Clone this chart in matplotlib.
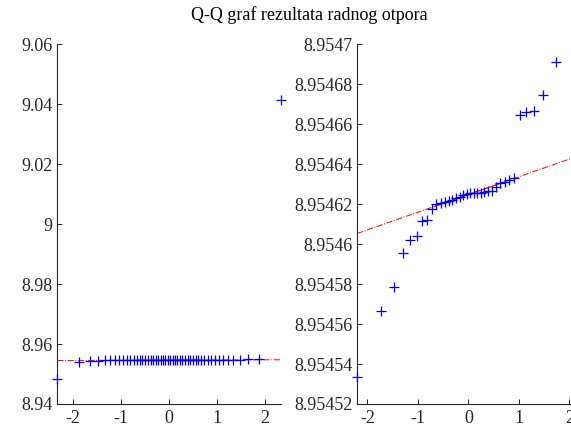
import numpy as np
import matplotlib
matplotlib.use('Agg')
import matplotlib.pyplot as plt
from statistics import NormalDist

plt.rcParams['font.family'] = ['Liberation Serif', 'DejaVu Serif']

# svi rezultati (50 mjerenja)
svi = [8.94834, 8.95410, 8.95440, 8.95450, 8.95452, 8.95454, 8.95455, 8.95456,
       8.95457, 8.95457, 8.95458, 8.95458, 8.95459, 8.95459, 8.95459, 8.95460,
       8.95460, 8.95460, 8.95460, 8.95461, 8.95461, 8.95461, 8.95461, 8.95462,
       8.95462, 8.95462, 8.95462, 8.95462, 8.95463, 8.95463, 8.95463, 8.95463,
       8.95464, 8.95464, 8.95464, 8.95465, 8.95465, 8.95466, 8.95466, 8.95467,
       8.95468, 8.95469, 8.95470, 8.95472, 8.95474, 8.95477, 8.95482, 8.95486,
       8.95490, 9.04140]
# bez grubih gresaka (36 mjerenja)
bez = [8.9545337, 8.9545665, 8.9545784, 8.9545957, 8.9546021, 8.9546042,
       8.9546117, 8.9546121, 8.9546177, 8.9546200, 8.9546207, 8.9546210,
       8.9546218, 8.9546222, 8.9546232, 8.9546238, 8.9546248, 8.9546252,
       8.9546254, 8.9546255, 8.9546256, 8.9546258, 8.9546262, 8.9546264,
       8.9546266, 8.9546285, 8.9546306, 8.9546310, 8.9546320, 8.9546330,
       8.9546646, 8.9546660, 8.9546668, 8.9546748, 8.9546910, 8.9546980]

yt1 = [8.94, 8.96, 8.98, 9.0, 9.02, 9.04, 9.06]
yl1 = ['8.94', '8.96', '8.98', '9', '9.02', '9.04', '9.06']
yt2 = [8.95452, 8.95454, 8.95456, 8.95458, 8.9546, 8.95462, 8.95464,
       8.95466, 8.95468, 8.9547]
yl2 = ['8.95452', '8.95454', '8.95456', '8.95458', '8.9546', '8.95462',
       '8.95464', '8.95466', '8.95468', '8.9547']
xt = [-2, -1, 0, 1, 2]
xl = ['-2', '-1', '0', '1', '2']

siva = '#262626'


def qq(ax, data, yt, yl):
    y = np.sort(np.array(data))
    n = len(y)
    x = np.array([NormalDist().inv_cdf((i - 0.5) / n) for i in range(1, n + 1)])
    q1, q3 = np.percentile(y, [25, 75], method='hazen')
    z1, z3 = NormalDist().inv_cdf(0.25), NormalDist().inv_cdf(0.75)
    k = (q3 - q1) / (z3 - z1)
    ax.plot(x, y, '+', color='blue', ms=6.5, mew=0.9, zorder=3, clip_on=False)
    ax.plot([z1, z3], [q1, q3], '-', color='red', lw=0.7, zorder=2)
    ax.plot([x[0], x[-1]], [q1 + k * (x[0] - z1), q1 + k * (x[-1] - z1)], '-.',
            color='red', lw=0.7, zorder=2)
    ax.set_xlim(x[0], x[-1])
    ax.set_ylim(yt[0], yt[-1])
    ax.set_yticks(yt)
    ax.set_yticklabels(yl)
    ax.set_xticks(xt)
    ax.set_xticklabels(xl)
    for s in ['top', 'right']:
        ax.spines[s].set_visible(False)
    for s in ['left', 'bottom']:
        ax.spines[s].set_color(siva)
        ax.spines[s].set_linewidth(0.8)
    ax.tick_params(direction='in', length=3.5, width=0.7, colors=siva,
                   labelsize=13, labelcolor=siva)
    ax.tick_params(axis='x', pad=4)


fig = plt.figure(figsize=(5.71, 4.28), dpi=100)
ax1 = fig.add_axes([0.1004, 0.0561, 0.3912, 0.8404])
ax2 = fig.add_axes([0.6257, 0.0561, 0.389, 0.8404])
qq(ax1, svi, yt1, yl1)
qq(ax2, bez, yt2, yl2)
fig.text(0.541, 0.965, 'Q-Q graf rezultata radnog otpora', ha='center', va='center',
         fontsize=13, color='black')
plt.savefig('out.png', dpi=100)
